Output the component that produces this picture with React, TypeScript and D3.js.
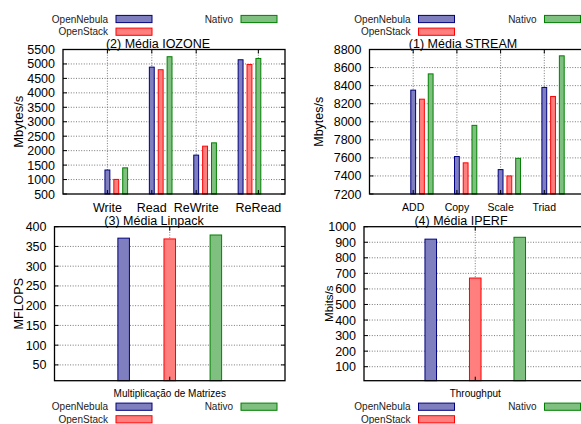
import React from "react";
import * as d3 from "d3";

// ---------- data ----------
const seriesNames = ["OpenNebula", "OpenStack", "Nativo"];

const iozoneCategories = ["Write", "Read", "ReWrite", "ReRead"];
const iozoneOpenNebula = [1330, 4890, 1845, 5145];
const iozoneOpenStack = [1005, 4800, 2155, 4980];
const iozoneNativo = [1405, 5250, 2270, 5190];
const iozoneYTicks = [500, 1000, 1500, 2000, 2500, 3000, 3500, 4000, 4500, 5000, 5500];

const streamCategories = ["ADD", "Copy", "Scale", "Triad"];
const streamOpenNebula = [8350, 7615, 7470, 8380];
const streamOpenStack = [8250, 7545, 7400, 8280];
const streamNativo = [8530, 7960, 7595, 8730];
const streamYTicks = [7200, 7400, 7600, 7800, 8000, 8200, 8400, 8600, 8800];

const linpackCategories = ["Multiplicação de Matrizes"];
const linpackOpenNebula = [371];
const linpackOpenStack = [369];
const linpackNativo = [379];
const linpackYTicks = [50, 100, 150, 200, 250, 300, 350, 400];

const iperfCategories = ["Throughput"];
const iperfOpenNebula = [920];
const iperfOpenStack = [670];
const iperfNativo = [932];
const iperfYTicks = [100, 200, 300, 400, 500, 600, 700, 800, 900, 1000];

// ---------- styles ----------
const fills = ["#7f7fbf", "#ff7f7f", "#7fbf7f"];
const strokes = ["#00007f", "#ff0000", "#008000"];
const FONT = "'Liberation Sans', Arial, Helvetica, sans-serif";

type PanelDef = {
  title: string;
  ylabel: string;
  categories: string[];
  series: number[][];
  yDomain: [number, number];
  yTicks: number[];
  left: number;
  right: number;
  top: number;
  bottom: number;
  xDomain: [number, number];
  clusterStep: number;
  seriesStep: number;
  barWidth: number;
  tickPos: number[];
  catFont: number;
  catY: number;
  ylabelX: number;
  ylabelSize: number;
  titleX: number;
  titleY: number;
};

function Panel({ p }: { p: PanelDef }) {
  const x = d3.scaleLinear().domain(p.xDomain).range([p.left, p.right]);
  const y = d3.scaleLinear().domain(p.yDomain).range([p.bottom, p.top]);
  const bw = x(p.barWidth) - x(0);
  const midY = (p.top + p.bottom) / 2;
  return (
    <g>
      {/* horizontal grid */}
      {p.yTicks.map((t) =>
        y(t) > p.top + 0.5 && y(t) < p.bottom - 0.5 ? (
          <line key={"hg" + t} x1={p.left} x2={p.right} y1={y(t)} y2={y(t)}
            stroke="#555" strokeWidth={0.8} strokeDasharray="1,1.6" />
        ) : null
      )}
      {/* vertical grid */}
      {p.tickPos.map((t, i) => (
        <line key={"vg" + i} x1={x(t)} x2={x(t)} y1={p.top} y2={p.bottom}
          stroke="#555" strokeWidth={0.8} strokeDasharray="1,1.6" />
      ))}
      {/* bars */}
      {p.series.map((vals, s) =>
        vals.map((v, i) => {
          const cx = x(i * p.clusterStep + s * p.seriesStep);
          return (
            <rect key={`b${s}-${i}`} x={cx - bw / 2} y={y(v)} width={bw}
              height={p.bottom - y(v)} fill={fills[s]} stroke={strokes[s]} strokeWidth={1} />
          );
        })
      )}
      {/* y tick marks */}
      {p.yTicks.map((t) => (
        <g key={"yt" + t}>
          <line x1={p.left} x2={p.left + 4} y1={y(t)} y2={y(t)} stroke="#000" />
          <line x1={p.right} x2={p.right - 4} y1={y(t)} y2={y(t)} stroke="#000" />
          <text x={p.left - 8} y={y(t)} dy="0.36em" textAnchor="end"
            fontSize={12.5} fontFamily={FONT} fill="#000">{t}</text>
        </g>
      ))}
      {/* x tick marks and labels */}
      {p.tickPos.map((t, i) => (
        <g key={"xt" + i}>
          <line x1={x(t)} x2={x(t)} y1={p.top} y2={p.top + 4} stroke="#000" />
          <line x1={x(t)} x2={x(t)} y1={p.bottom} y2={p.bottom - 4} stroke="#000" />
          <text x={x(t)} y={p.catY} dy="0.36em" textAnchor="middle"
            fontSize={p.catFont} fontFamily={FONT} fill="#000">{p.categories[i]}</text>
        </g>
      ))}
      {/* border */}
      <rect x={p.left} y={p.top} width={p.right - p.left} height={p.bottom - p.top}
        fill="none" stroke="#000" strokeWidth={1.3} />
      {/* title */}
      <text x={p.titleX} y={p.titleY} dy="0.36em" textAnchor="middle"
        fontSize={12.5} fontFamily={FONT} fill="#000">{p.title}</text>
      {/* y label */}
      <text transform={`translate(${p.ylabelX},${midY}) rotate(-90)`} dy="0.36em"
        textAnchor="middle" fontSize={p.ylabelSize} fontFamily={FONT} fill="#000">{p.ylabel}</text>
    </g>
  );
}

function Legend({ textEnd, nativoEnd, row1, row2 }: { textEnd: number; nativoEnd: number; row1: number; row2: number }) {
  const items = [
    { i: 0, xEnd: textEnd, y: row1 },
    { i: 1, xEnd: textEnd, y: row2 },
    { i: 2, xEnd: nativoEnd, y: row1 },
  ];
  return (
    <g>
      {items.map((it) => (
        <g key={it.i}>
          <text x={it.xEnd} y={it.y} dy="0.36em" textAnchor="end" fontSize={10}
            fontFamily={FONT} fill="#222">{seriesNames[it.i]}</text>
          <rect x={it.xEnd + 8} y={it.y - 3.6} width={36} height={7.2}
            fill={fills[it.i]} stroke={strokes[it.i]} strokeWidth={1} />
        </g>
      ))}
    </g>
  );
}

const panels: PanelDef[] = [
  {
    title: "(2) Média IOZONE",
    ylabel: "Mbytes/s",
    categories: iozoneCategories,
    series: [iozoneOpenNebula, iozoneOpenStack, iozoneNativo],
    yDomain: [500, 5500],
    yTicks: iozoneYTicks,
    left: 63, right: 285, top: 49.5, bottom: 194,
    xDomain: [-1, 4],
    clusterStep: 1, seriesStep: 0.2, barWidth: 0.11,
    tickPos: [0, 1, 2, 3.4],
    catFont: 12.5, catY: 207,
    ylabelX: 18, ylabelSize: 13,
    titleX: 158, titleY: 43,
  },
  {
    title: "(1) Média STREAM",
    ylabel: "Mbytes/s",
    categories: streamCategories,
    series: [streamOpenNebula, streamOpenStack, streamNativo],
    yDomain: [7200, 8800],
    yTicks: streamYTicks,
    left: 369.5, right: 588, top: 49.5, bottom: 194,
    xDomain: [-1, 4],
    clusterStep: 1, seriesStep: 0.2, barWidth: 0.11,
    tickPos: [0, 1, 2, 3],
    catFont: 10.5, catY: 207,
    ylabelX: 318, ylabelSize: 12.5,
    titleX: 463, titleY: 43,
  },
  {
    title: "(3) Média Linpack",
    ylabel: "MFLOPS",
    categories: linpackCategories,
    series: [linpackOpenNebula, linpackOpenStack, linpackNativo],
    yDomain: [10, 400],
    yTicks: linpackYTicks,
    left: 54.5, right: 285, top: 226.7, bottom: 380.7,
    xDomain: [-1.5, 3.5],
    clusterStep: 0, seriesStep: 1, barWidth: 0.25,
    tickPos: [1],
    catFont: 10, catY: 393,
    ylabelX: 18, ylabelSize: 12.5,
    titleX: 154, titleY: 220.5,
  },
  {
    title: "(4) Média IPERF",
    ylabel: "Mbits/s",
    categories: iperfCategories,
    series: [iperfOpenNebula, iperfOpenStack, iperfNativo],
    yDomain: [10, 1000],
    yTicks: iperfYTicks,
    left: 364, right: 586.5, top: 226.7, bottom: 380.7,
    xDomain: [-1.5, 3.5],
    clusterStep: 0, seriesStep: 1, barWidth: 0.26,
    tickPos: [1],
    catFont: 10, catY: 393,
    ylabelX: 329, ylabelSize: 11.5,
    titleX: 461, titleY: 220.5,
  },
];

export default function App() {
  return (
    <svg width={581} height={424} style={{ position: "absolute", left: 0, top: 0, background: "#fff" }}>
      <rect width={581} height={424} fill="#fff" />
      {panels.map((p, i) => (
        <Panel key={i} p={p} />
      ))}
      <Legend textEnd={108} nativoEnd={233} row1={19} row2={31.7} />
      <Legend textEnd={410.5} nativoEnd={536.5} row1={19} row2={31.7} />
      <Legend textEnd={108} nativoEnd={233} row1={406.7} row2={419.3} />
      <Legend textEnd={410.5} nativoEnd={536.5} row1={406.7} row2={419.3} />
    </svg>
  );
}
